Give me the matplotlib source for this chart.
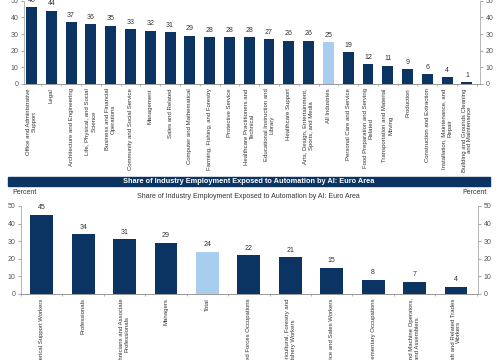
import matplotlib.pyplot as plt
from matplotlib.patches import Rectangle

plt.rcParams['font.family'] = ['Liberation Sans', 'DejaVu Sans']

NAVY = '#0b3463'
LIGHT = '#a9cdee'
GRAY = '#555555'

# US occupations
us_labels = [
    "Office and Administrative\nSupport", "Legal", "Architecture and Engineering",
    "Life, Physical, and Social\nScience", "Business and Financial\nOperations",
    "Community and Social Service", "Management", "Sales and Related",
    "Computer and Mathematical", "Farming, Fishing, and Forestry",
    "Protective Service", "Healthcare Practitioners and\nTechnical",
    "Educational Instruction and\nLibrary", "Healthcare Support",
    "Arts, Design, Entertainment,\nSports, and Media", "All Industries",
    "Personal Care and Service", "Food Preparation and Serving\nRelated",
    "Transportation and Material\nMoving", "Production",
    "Construction and Extraction", "Installation, Maintenance, and\nRepair",
    "Building and Grounds Cleaning\nand Maintenance",
]
us_values = [46, 44, 37, 36, 35, 33, 32, 31, 29, 28, 28, 28, 27, 26, 26, 25,
             19, 12, 11, 9, 6, 4, 1]
us_total = "All Industries"

# Euro area
ea_labels = [
    "Clerical Support Workers", "Professionals",
    "Technicians and Associate\nProfessionals", "Managers", "Total",
    "Armed Forces Occupations",
    "Skilled Agricultural, Forestry and\nFishery Workers",
    "Service and Sales Workers", "Elementary Occupations",
    "Plant and Machine Operators,\nand Assemblers",
    "Craft and Related Trades\nWorkers",
]
ea_values = [45, 34, 31, 29, 24, 22, 21, 15, 8, 7, 4]
ea_total = "Total"

title = "Share of Industry Employment Exposed to Automation by AI: Euro Area"

fig = plt.figure(figsize=(5, 3.6), dpi=100)


def panel(ax, labels, values, total):
    n = len(values)
    x = list(range(n))
    colors = [LIGHT if l.startswith(total) else NAVY for l in labels]
    ax.bar(x, values, width=0.55, color=colors, zorder=2)
    for xi, v in zip(x, values):
        ax.annotate(str(v), (xi, v), xytext=(0, 2.5), textcoords='offset points',
                    ha='center', va='bottom', fontsize=5, color='#333333')
    ax.set_ylim(0, 50)
    ax.set_yticks(range(0, 51, 10))
    ax.set_xticks(x)
    ax.set_xticklabels(labels, rotation=90, fontsize=4.3, color='#333333',
                       ha='center', va='top', multialignment='center')
    ax.set_xticks([i + 0.5 for i in range(-1, n)], minor=True)
    ax.tick_params(axis='x', which='major', length=0, pad=3)
    ax.tick_params(axis='x', which='minor', length=1.5, color='#aaaaaa')
    ax.tick_params(axis='y', which='both', labelsize=5, labelcolor=GRAY,
                   length=2, color='#aaaaaa', left=True, right=True,
                   labelleft=True, labelright=True, pad=2)
    ax.spines['top'].set_visible(False)
    for s in ('left', 'right', 'bottom'):
        ax.spines[s].set_color('#aaaaaa')
        ax.spines[s].set_linewidth(0.6)
    ax.spines['bottom'].set_color('#888888')


ax1 = fig.add_axes([0.048, (360 - 84) / 360, 0.912, 83.3 / 360])
panel(ax1, us_labels, us_values, us_total)
ax1.set_xlim(-0.38, 22.66)

ax2 = fig.add_axes([0.042, (360 - 294) / 360, 0.914, 88 / 360])
panel(ax2, ea_labels, ea_values, ea_total)
ax2.set_xlim(-0.5, 10.53)

# banner
fig.patches.append(Rectangle((8 / 500, (360 - 186) / 360), 482 / 500, 9 / 360,
                             transform=fig.transFigure, color=NAVY, zorder=0))
fig.text(0.497, (360 - 181.5) / 360, title, color='white', fontsize=5.3,
         fontweight='bold', ha='center', va='center')
fig.text(0.497, (360 - 196.5) / 360, title, color='#333333', fontsize=5,
         ha='center', va='center')
fig.text(12 / 500, (360 - 193) / 360, "Percent", color='#333333', fontsize=5,
         ha='left', va='center')
fig.text(487 / 500, (360 - 193) / 360, "Percent", color='#333333', fontsize=5,
         ha='right', va='center')

fig.savefig('out.png', dpi=100)
